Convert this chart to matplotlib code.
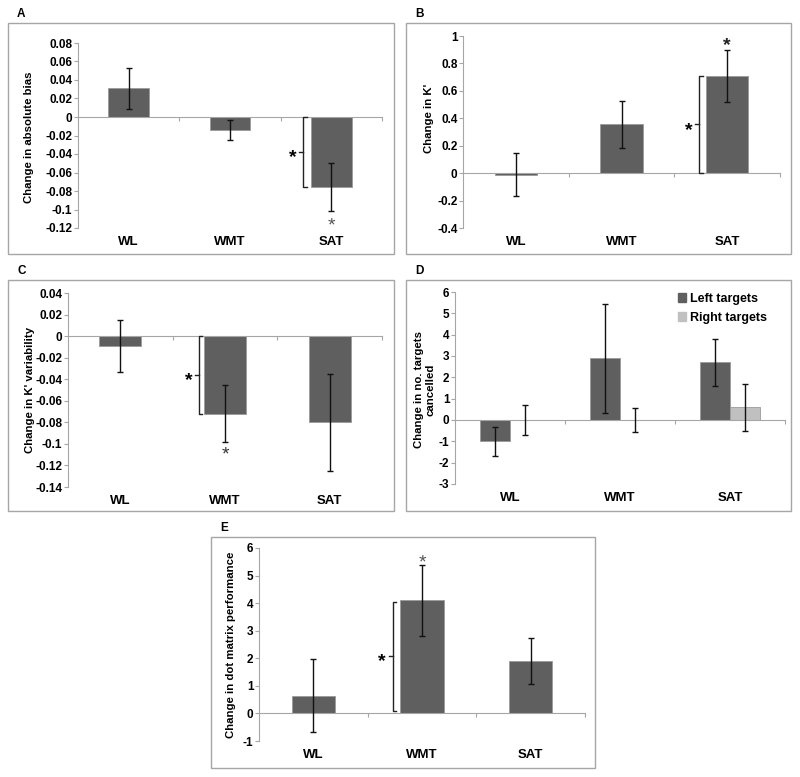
import matplotlib
matplotlib.use('Agg')
import matplotlib.pyplot as plt # for plotting
from matplotlib.patches import Rectangle # for the panel frames
from matplotlib.ticker import FuncFormatter, MultipleLocator # for excel like ticks

plt.rcParams['font.family'] = ['Liberation Sans', 'DejaVu Sans']
plt.rcParams['font.weight'] = 'bold'

groups = ['WL', 'WMT', 'SAT']

# A: change in absolute bias
biasMean = [0.031, -0.014, -0.076]
biasErr = [0.022, 0.011, 0.026]
# B: change in K'
kMean = [-0.01, 0.355, 0.71]
kErr = [0.16, 0.17, 0.19]
# C: change in K' variability
kVarMean = [-0.009, -0.072, -0.080]
kVarErr = [0.024, 0.0265, 0.045]
# D: change in no. targets cancelled
leftMean = [-1.0, 2.9, 2.7]
leftErr = [0.67, 2.55, 1.1]
rightMean = [0.0, 0.0, 0.6]
rightErr = [0.68, 0.55, 1.1]
# E: change in dot matrix performance
dotMean = [0.65, 4.1, 1.9]
dotErr = [1.31, 1.3, 0.85]

W, H = 800, 777
DARK = '#5f5f5f'
LIGHT = '#c0c0c0'
GRID = '#a6a6a6'

fig = plt.figure(figsize=(W/100, H/100), dpi=100)


def pxRect(l, t, r, b):
    # pixel box -> figure fraction [left, bottom, width, height]
    return [l/W, 1-b/H, (r-l)/W, (b-t)/H]


def frame(label, l, t, r, b):
    fig.add_artist(Rectangle((l/W, 1-b/H), (r-l)/W, (b-t)/H, transform=fig.transFigure,
                             fill=False, edgecolor=GRID, linewidth=1))
    fig.text((l+9)/W, 1-(t-9)/H, label, fontsize=8.5, fontweight='bold', va='center')


def styleAxes(ax, ylim, step, ylabel, labelPos):
    ax.set_xlim(-0.5, 2.5)
    ax.set_ylim(*ylim)
    for side in ('top', 'right'):
        ax.spines[side].set_visible(False)
    ax.spines['left'].set_color(GRID)
    ax.spines['bottom'].set_color(GRID)
    ax.spines['bottom'].set_position(('data', 0))
    ax.yaxis.set_major_locator(MultipleLocator(step))
    ax.yaxis.set_major_formatter(FuncFormatter(lambda v, p: '{:g}'.format(round(v, 6))))
    ax.tick_params(axis='y', direction='out', length=3, color=GRID, labelsize=8.5, pad=1)
    ax.set_xticks([0.5, 1.5, 2.5])
    ax.set_xticklabels([])
    ax.tick_params(axis='x', direction='out', length=3, color=GRID)
    for i, g in enumerate(groups):
        ax.annotate(g, (i, 0), xycoords=('data', 'axes fraction'), xytext=(0, -10),
                    textcoords='offset points', ha='center', va='center',
                    fontsize=9.5, fontweight='bold')
    # label position is the right edge of the rotated text
    ax.set_ylabel(ylabel, fontsize=8.2, fontweight='bold')
    ax.yaxis.set_label_coords(*labelPos)


def bars(ax, mean, err, x=None, width=0.4, color=DARK):
    x = list(range(len(mean))) if x is None else x
    ax.bar(x, mean, width=width, color=color, edgecolor='#9a9a9a', linewidth=0.6, zorder=2)
    ax.errorbar(x, mean, yerr=err, fmt='none', ecolor='#111111', elinewidth=1,
                capsize=2.5, capthick=1, zorder=3)


def star(ax, x, y, color='#555555', weight='normal'):
    # asterisk glyph sits high in its box, shift it down a bit
    ax.annotate('*', (x, y), xytext=(0, -4.2), textcoords='offset points', fontsize=14,
                fontweight=weight, color=color, ha='center', va='center')


def bracket(ax, x, y0, y1, dx=0.035):
    kw = {'color': '#222222', 'linewidth': 1, 'zorder': 3}
    ax.plot([x+dx, x, x, x+dx], [y0, y0, y1, y1], **kw)
    ym = (y0+y1)/2
    ax.plot([x-dx, x], [ym, ym], **kw)
    star(ax, x-0.1, ym, color='black', weight='bold')


# A
frame('A', 8, 23, 394, 254)
axA = fig.add_axes(pxRect(78, 43, 382, 228))
bars(axA, biasMean, biasErr)
styleAxes(axA, (-0.12, 0.08), 0.02, 'Change in absolute bias', (-0.145, 0.49))
bracket(axA, 1.72, 0, biasMean[2])
star(axA, 2, -0.112)

# B
frame('B', 406, 23, 791, 254)
axB = fig.add_axes(pxRect(463, 36, 780, 228))
bars(axB, kMean, kErr)
styleAxes(axB, (-0.4, 1.0), 0.2, "Change in K'", (-0.091, 0.57))
bracket(axB, 1.735, 0, kMean[2])
star(axB, 2, 0.975, color='#222222', weight='bold')

# C
frame('C', 8, 280, 394, 511)
axC = fig.add_axes(pxRect(68, 293, 382, 487))
bars(axC, kVarMean, kVarErr)
styleAxes(axC, (-0.14, 0.04), 0.02, "Change in K' variability", (-0.105, 0.5))
bracket(axC, 0.75, 0, kVarMean[1])
star(axC, 1, -0.105, color='#333333')

# D
frame('D', 406, 280, 791, 511)
axD = fig.add_axes(pxRect(455, 292, 785, 484))
bars(axD, leftMean, leftErr, x=[i-0.135 for i in range(3)], width=0.27)
bars(axD, rightMean, rightErr, x=[i+0.135 for i in range(3)], width=0.27, color=LIGHT)
styleAxes(axD, (-3, 6), 1, 'Change in no. targets\ncancelled', (-0.058, 0.49))
legendHandles = [Rectangle((0, 0), 1, 1, color=DARK), Rectangle((0, 0), 1, 1, color=LIGHT)]
axD.legend(legendHandles, ['Left targets', 'Right targets'], loc='upper right',
           bbox_to_anchor=(0.98, 1.055), frameon=False, handlelength=0.7, handleheight=0.7,
           handletextpad=0.3, labelspacing=0.55, prop={'size': 9, 'weight': 'bold'})

# E
frame('E', 211, 537, 595, 768)
axE = fig.add_axes(pxRect(259, 548, 585, 741))
bars(axE, dotMean, dotErr)
styleAxes(axE, (-1, 6), 1, 'Change in dot matrix performance', (-0.071, 0.5))
bracket(axE, 0.73, 0.1, 4.05)
star(axE, 1, 5.68)

fig.savefig('out.png', dpi=100)
